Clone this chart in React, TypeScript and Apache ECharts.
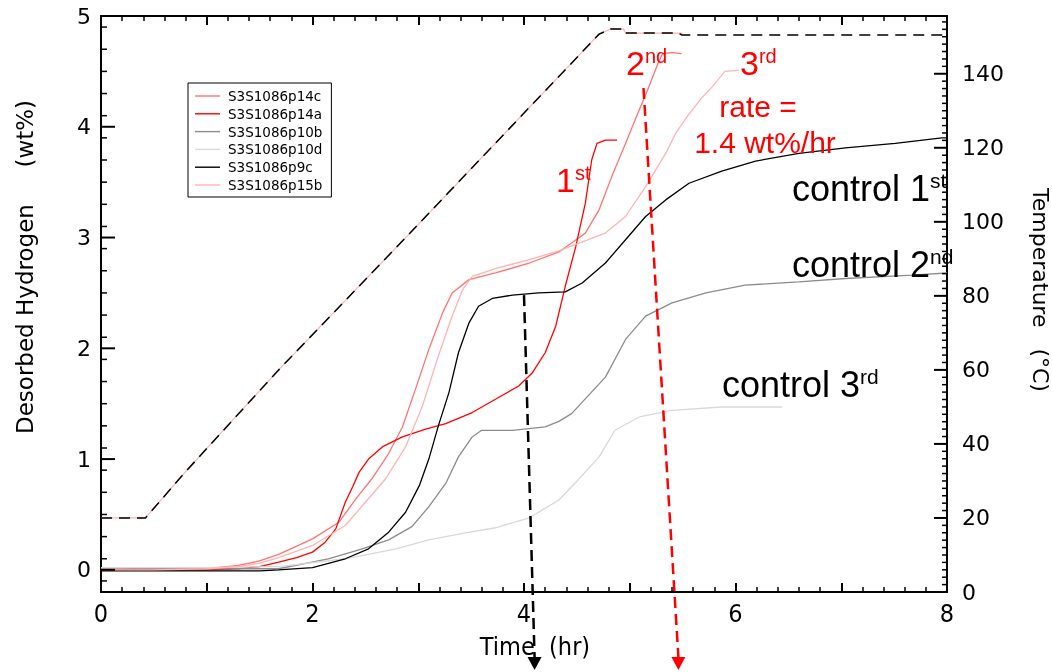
import React, { useEffect, useRef } from "react";
import * as echarts from "echarts";

// ---------- data (time in hr, desorbed hydrogen in wt%) ----------
const p14c: number[][] = [
  [0, 0.01], [0.5, 0.0], [1.0, 0.01], [1.3, 0.04], [1.5, 0.08], [1.68, 0.14], [2.0, 0.28],
  [2.25, 0.43], [2.41, 0.64], [2.56, 0.82], [2.72, 1.05], [2.85, 1.29], [2.97, 1.62],
  [3.1, 1.99], [3.23, 2.32], [3.32, 2.5], [3.48, 2.62], [3.73, 2.68], [4.05, 2.77],
  [4.33, 2.87], [4.45, 2.95], [4.58, 3.04], [4.71, 3.25], [4.83, 3.55], [4.96, 3.85],
  [5.05, 4.06], [5.18, 4.36], [5.27, 4.58], [5.31, 4.66], [5.4, 4.67], [5.49, 4.66],
];
const p14a: number[][] = [
  [0, 0.0], [0.5, 0.0], [1.0, 0.0], [1.3, 0.01], [1.5, 0.03], [1.68, 0.07], [1.85, 0.11],
  [2.0, 0.16], [2.12, 0.25], [2.22, 0.37], [2.31, 0.61], [2.38, 0.75], [2.44, 0.88],
  [2.53, 1.0], [2.66, 1.11], [2.85, 1.2], [3.07, 1.27], [3.26, 1.32], [3.51, 1.42],
  [3.73, 1.54], [3.95, 1.66], [4.08, 1.78], [4.2, 1.96], [4.3, 2.2], [4.39, 2.56],
  [4.49, 2.92], [4.58, 3.31], [4.64, 3.7], [4.69, 3.85], [4.77, 3.88], [4.88, 3.88],
];
const p10b: number[][] = [
  [0, 0.02], [0.5, 0.01], [1.0, 0.01], [1.68, 0.01], [2.15, 0.1], [2.47, 0.19], [2.72, 0.27],
  [2.94, 0.39], [3.1, 0.57], [3.26, 0.78], [3.38, 1.02], [3.51, 1.2], [3.6, 1.26],
  [3.89, 1.26], [4.2, 1.29], [4.33, 1.34], [4.45, 1.41], [4.77, 1.74], [4.96, 2.08],
  [5.15, 2.29], [5.4, 2.41], [5.72, 2.5], [6.09, 2.57], [6.6, 2.6], [7.04, 2.63],
  [7.67, 2.66], [8.0, 2.68],
];
const p10d: number[][] = [
  [0, 0.02], [0.5, 0.02], [1.0, 0.02], [1.68, 0.03], [2.31, 0.1], [2.79, 0.19], [3.1, 0.27],
  [3.42, 0.33], [3.73, 0.38], [4.05, 0.47], [4.33, 0.63], [4.5, 0.8], [4.71, 1.02],
  [4.86, 1.26], [5.09, 1.38], [5.4, 1.44], [5.87, 1.47], [6.44, 1.47],
];
const p9c: number[][] = [
  [0, -0.01], [0.5, -0.01], [1.0, -0.01], [1.5, -0.01], [1.68, 0.0], [2.0, 0.02], [2.31, 0.1],
  [2.53, 0.19], [2.72, 0.34], [2.88, 0.52], [3.01, 0.76], [3.1, 1.0], [3.19, 1.3],
  [3.29, 1.6], [3.38, 1.96], [3.48, 2.23], [3.57, 2.38], [3.7, 2.45], [3.89, 2.48],
  [4.14, 2.5], [4.39, 2.51], [4.55, 2.59], [4.77, 2.77], [4.96, 2.98], [5.15, 3.19],
  [5.34, 3.34], [5.56, 3.49], [5.87, 3.6], [6.19, 3.69], [6.6, 3.76], [7.04, 3.81],
  [7.51, 3.85], [7.95, 3.9], [8.0, 3.9],
];
const p15b: number[][] = [
  [0, 0.0], [0.5, 0.0], [1.0, 0.01], [1.3, 0.03], [1.5, 0.06], [1.68, 0.11], [2.0, 0.22],
  [2.31, 0.4], [2.5, 0.61], [2.69, 0.82], [2.88, 1.11], [3.04, 1.48], [3.19, 1.93],
  [3.32, 2.29], [3.42, 2.53], [3.51, 2.65], [3.73, 2.72], [4.05, 2.8], [4.33, 2.88],
  [4.52, 2.95], [4.77, 3.04], [4.96, 3.19], [5.15, 3.46], [5.34, 3.76], [5.44, 3.95],
  [5.55, 4.1], [5.68, 4.26], [5.78, 4.36], [5.9, 4.5], [6.03, 4.51],
];
// temperature (°C) vs time (hr)
const tempRamp: number[][] = [
  [0, 20], [0.42, 20], [0.8, 32.5], [1.68, 60], [2.85, 94.8], [4.71, 150.7], [4.82, 152.1],
  [4.94, 152.1], [4.96, 151], [5.46, 151], [5.49, 150.5], [8.0, 150.5],
];
const tempRampPink: number[][] = [
  [0, 20], [0.42, 20], [0.8, 32.5], [1.68, 60], [2.85, 94.8], [4.71, 150.7], [4.82, 152.1],
  [4.94, 152.1], [4.96, 151], [5.46, 151], [5.5, 151],
];

// tick values for the two vertical axes
const wtMajor = [0, 1, 2, 3, 4, 5];
const wtMinor = [-0.1, 0.1, 0.3, 0.5, 0.7, 0.9, 1.1, 1.3, 1.5, 1.7, 1.9, 2.1, 2.3, 2.5, 2.7, 2.9,
  3.1, 3.3, 3.5, 3.7, 3.9, 4.1, 4.3, 4.5, 4.7, 4.9];
const tMajor = [0, 20, 40, 60, 80, 100, 120, 140];
const tMinor: number[] = [];
for (let v = 2; v < 155; v += 2) if (v % 20 !== 0) tMinor.push(v);

// arrows: [x start, y start (wt%), x end] in hr
const blackArrow = [4.0, 2.48, 4.1];
const redArrow = [5.13, 4.35, 5.46];

const names = ["S3S1086p14c", "S3S1086p14a", "S3S1086p10b", "S3S1086p10d", "S3S1086p9c", "S3S1086p15b"];
const colors = ["#ff7373", "#ff0000", "#8c8c8c", "#d9d9d9", "#000000", "#ffb3b3"];
const seriesData = [p14c, p14a, p10b, p10d, p9c, p15b];

const LAB = "'DejaVu Sans', 'Lucida Grande', sans-serif";
const NARROW = "'Liberation Sans Narrow', 'DejaVu Sans Condensed', 'Liberation Sans', sans-serif";
const ARIAL = "'Liberation Sans', Arial, Helvetica, sans-serif";

const fmtEven = (v: number) => (Math.abs(v % 2) < 1e-9 ? String(v) : "");
const fmtInt = (v: number) => (v >= 0 && Math.abs(v - Math.round(v)) < 1e-9 ? String(Math.round(v)) : "");
const fmtT = (v: number) => (v >= 0 && Math.abs(v % 20) < 1e-9 ? String(v) : "");

export default function App() {
  const ref = useRef<HTMLDivElement>(null);
  useEffect(() => {
    const chart = echarts.init(ref.current!, null, { renderer: "svg" });

    const frameX = (pos: "top" | "bottom", labels: boolean) => ({
      type: "value",
      min: 0,
      max: 8,
      interval: 1,
      position: pos,
      axisLine: { show: true, onZero: false, lineStyle: { color: "#000", width: 2 } },
      axisTick: { show: true, inside: true, length: 9, lineStyle: { color: "#000", width: 2 } },
      minorTick: { show: true, splitNumber: 5, length: 5, lineStyle: { color: "#000", width: 1.5 } },
      splitLine: { show: false },
      axisLabel: labels
        ? { show: true, formatter: fmtEven, fontSize: 25, fontFamily: NARROW, color: "#000", margin: 9 }
        : { show: false },
    });
    const frameY = (pos: "left" | "right", min: number, max: number, iv: number, fmt: (v: number) => string) => ({
      type: "value",
      min,
      max,
      interval: iv,
      position: pos,
      axisLine: { show: true, onZero: false, lineStyle: { color: "#000", width: 2 } },
      axisTick: { show: false },
      splitLine: { show: false },
      axisLabel: {
        show: true,
        formatter: fmt,
        fontSize: 22,
        fontFamily: LAB,
        color: "#000",
        margin: pos === "left" ? 10 : 15,
      },
    });

    // inward tick marks of the vertical axes, drawn by a custom series through the axis scale
    // item: [x (unused), value, length, side (0 = left, 1 = right)]
    const tickItems = (major: number[], minor: number[], side: number, majLen: number, minLen: number) => [
      ...major.map((v) => [0, v, majLen, side]),
      ...minor.map((v) => [0, v, minLen, side]),
    ];
    const tickSeries = (yAxisIndex: number, items: number[][]) => ({
      type: "custom",
      name: "ticks" + yAxisIndex,
      xAxisIndex: 0,
      yAxisIndex,
      silent: true,
      clip: false,
      z: 20,
      encode: { x: 0, y: 1 },
      data: items,
      renderItem: (params: any, api: any) => {
        const v = api.value(1);
        const len = api.value(2);
        const side = api.value(3);
        const cs = params.coordSys;
        const y = api.coord([0, v])[1];
        const x0 = side ? cs.x + cs.width : cs.x;
        const x1 = side ? x0 - len : x0 + len;
        return {
          type: "line",
          shape: { x1: x0, y1: y, x2: x1, y2: y },
          style: { stroke: "#000", lineWidth: len > 8 ? 2 : 1.5 },
        };
      },
    });

    const series: any[] = [
      {
        type: "line",
        name: "tempPink",
        data: tempRampPink,
        yAxisIndex: 1,
        symbol: "none",
        lineStyle: { color: "#ffb3b3", width: 1.2 },
        silent: true,
        z: 1,
      },
      {
        type: "line",
        name: "tempBlack",
        data: tempRamp,
        yAxisIndex: 1,
        symbol: "none",
        lineStyle: { color: "#000", width: 1.5, type: [11, 7] },
        silent: true,
        z: 2,
      },
    ];
    names.forEach((n, i) => {
      series.push({
        type: "line",
        name: n,
        data: seriesData[i],
        yAxisIndex: 0,
        symbol: "none",
        lineStyle: { color: colors[i], width: 1.3 },
        itemStyle: { color: colors[i] },
        z: 3,
      });
    });
    series.push(tickSeries(0, tickItems(wtMajor, wtMinor, 0, 14, 6)));
    series.push(tickSeries(1, tickItems(tMajor, tMinor, 1, 13, 5)));

    chart.setOption({
      animation: false,
      grid: { left: 101, right: 105, top: 16, bottom: 80 },
      legend: {
        data: names,
        orient: "vertical",
        left: 188,
        top: 83,
        padding: [6, 9, 5, 7],
        icon: "path://M0,0 H25 V1.4 H0 Z",
        itemWidth: 25,
        itemHeight: 14,
        itemGap: 3.8,
        borderColor: "#000",
        borderWidth: 1,
        borderRadius: 0,
        selectedMode: false,
        textStyle: { fontSize: 13.5, fontFamily: LAB, color: "#000", padding: [0, 0, 0, 3] },
      },
      xAxis: [
        {
          ...frameX("bottom", true),
          name: "Time  (hr)",
          nameLocation: "middle",
          nameGap: 42,
          nameTextStyle: { fontSize: 25, fontFamily: NARROW, color: "#000", padding: [0, 0, 0, 22] },
        },
        frameX("top", false),
      ],
      yAxis: [frameY("left", -0.2, 5, 0.2, fmtInt), frameY("right", 0, 155.6, 20, fmtT)],
      series,
    });

    const px = (x: number, y: number) => chart.convertToPixel({ xAxisIndex: 0, yAxisIndex: 0 }, [x, y]) as number[];
    const bStart = px(blackArrow[0], blackArrow[1]);
    const bEnd = px(blackArrow[2], 0);
    const rStart = px(redArrow[0], redArrow[1]);
    const rEnd = px(redArrow[2], 0);
    const arrowEndY = 657;

    const ordinal = (big: string, sup: string, x: number, y: number, color: string, bs: number, ss: number) => ({
      type: "text",
      x,
      y,
      style: {
        text: `{b|${big}}{s|${sup}}`,
        fill: color,
        align: "left",
        verticalAlign: "top",
        rich: {
          b: { fontSize: bs, fontFamily: ARIAL, fill: color, verticalAlign: "bottom" },
          s: { fontSize: ss, fontFamily: ARIAL, fill: color, verticalAlign: "top" },
        },
      },
      z: 100,
    });

    chart.setOption({
      graphic: [
        ordinal("1", "st", 556, 163, "#ff0000", 34, 20),
        ordinal("2", "nd", 626, 46, "#ff0000", 34, 20),
        ordinal("3", "rd", 740, 46, "#ff0000", 34, 20),
        {
          type: "text",
          x: 758,
          y: 91,
          style: { text: "rate =", fill: "#ff0000", fontSize: 30, fontFamily: ARIAL, align: "center", verticalAlign: "top" },
          z: 100,
        },
        {
          type: "text",
          x: 765,
          y: 127,
          style: { text: "1.4 wt%/hr", fill: "#ff0000", fontSize: 30, fontFamily: ARIAL, align: "center", verticalAlign: "top" },
          z: 100,
        },
        ordinal("control 1", "st", 792, 170, "#000", 36, 21),
        ordinal("control 2", "nd", 792, 246, "#000", 36, 21),
        ordinal("control 3", "rd", 722, 366, "#000", 36, 21),
        {
          type: "text",
          x: 25,
          y: 267,
          rotation: Math.PI / 2,
          style: {
            text: "Desorbed Hydrogen     (wt%)",
            fill: "#000",
            fontSize: 23,
            fontFamily: LAB,
            align: "center",
            verticalAlign: "middle",
          },
        },
        {
          type: "text",
          x: 1040,
          y: 290,
          rotation: -Math.PI / 2,
          style: {
            text: "Temperature   (°C)",
            fill: "#000",
            fontSize: 22,
            fontFamily: LAB,
            align: "center",
            verticalAlign: "middle",
          },
        },
        {
          type: "line",
          shape: { x1: bStart[0], y1: bStart[1], x2: bEnd[0], y2: arrowEndY },
          style: { stroke: "#000", lineWidth: 2.5, lineDash: [11, 6] },
          z: 90,
        },
        {
          type: "polygon",
          shape: { points: [[bEnd[0] - 7, arrowEndY], [bEnd[0] + 7, arrowEndY], [bEnd[0], arrowEndY + 13]] },
          style: { fill: "#000" },
          z: 90,
        },
        {
          type: "line",
          shape: { x1: rStart[0], y1: rStart[1], x2: rEnd[0], y2: arrowEndY },
          style: { stroke: "#ff0000", lineWidth: 2.5, lineDash: [11, 6] },
          z: 90,
        },
        {
          type: "polygon",
          shape: { points: [[rEnd[0] - 7, arrowEndY], [rEnd[0] + 7, arrowEndY], [rEnd[0], arrowEndY + 13]] },
          style: { fill: "#ff0000" },
          z: 90,
        },
      ],
    });
    return () => chart.dispose();
  }, []);
  return <div ref={ref} style={{ position: "fixed", left: 0, top: 0, width: 1052, height: 672 }} />;
}
